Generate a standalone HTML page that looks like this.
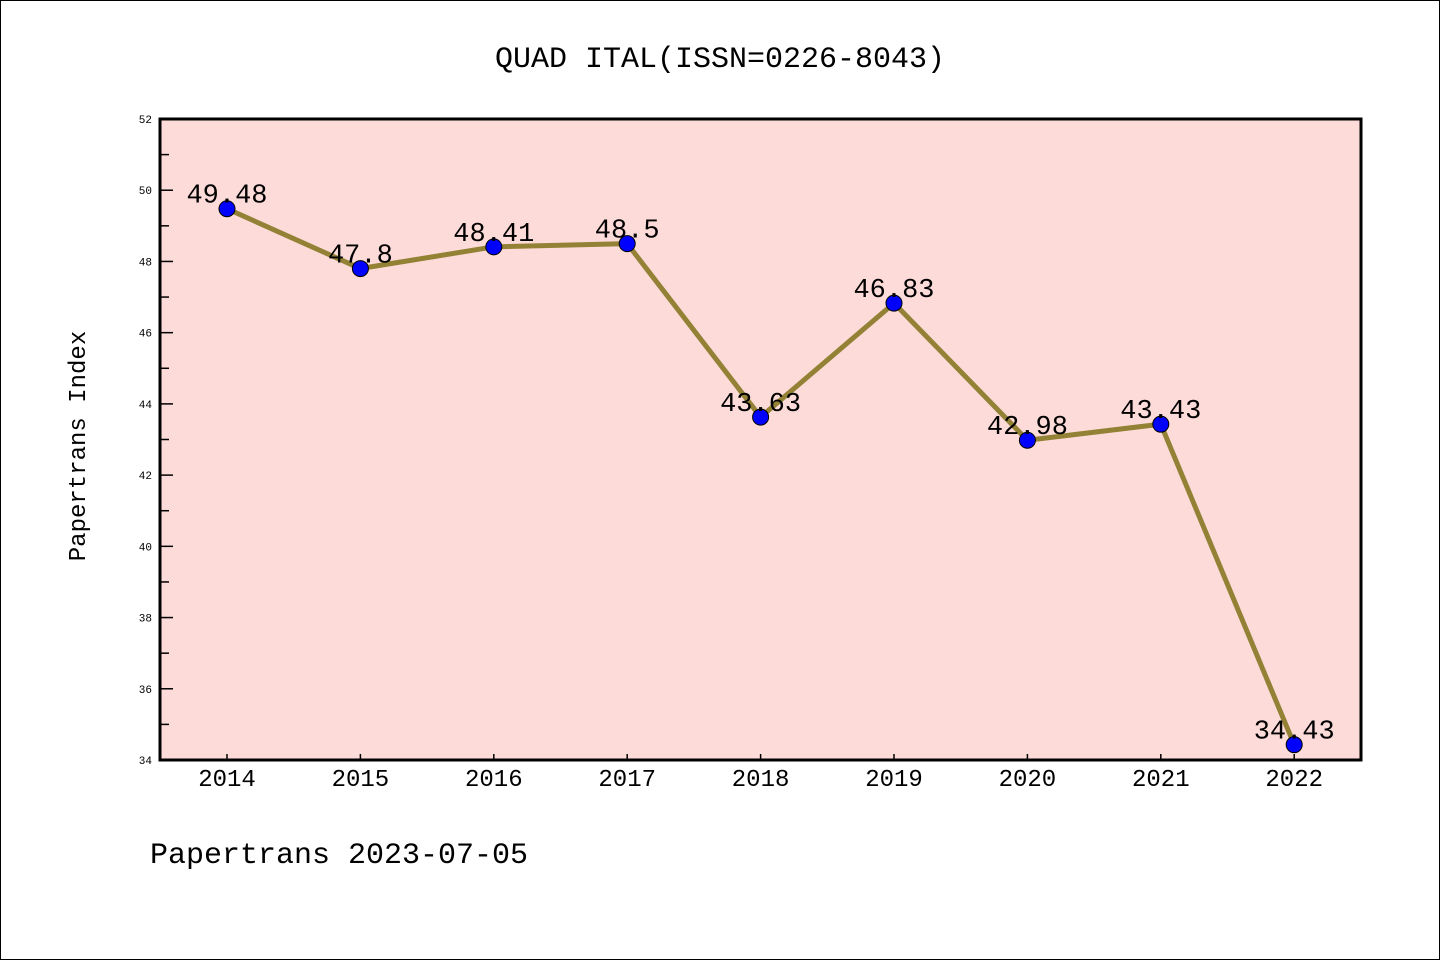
<!DOCTYPE html>
<html><head><meta charset="utf-8"><style>
html,body{margin:0;padding:0;background:#fff;}
svg{display:block;}
text{font-family:"Liberation Mono","WenQuanYi Zen Hei",monospace;}
</style></head><body>
<svg id="chart" width="1440" height="960" xmlns="http://www.w3.org/2000/svg">
<rect x="0.5" y="0.5" width="1439" height="959" fill="#fff" stroke="#000" stroke-width="1"/>
<text x="720" y="67" font-size="30" text-anchor="middle">QUAD ITAL(ISSN=0226-8043)</text>
<rect x="160" y="119" width="1201" height="641" fill="#fddbd8"/>
<g id="axes"></g>
<g id="series"></g>
<rect x="160" y="119" width="1201" height="641" fill="none" stroke="#000" stroke-width="3"/>
<text transform="translate(85,446) rotate(-90)" font-size="24" text-anchor="middle">Papertrans Index</text>
<text x="150" y="863" font-size="30">Papertrans 2023-07-05</text>
</svg>
<script>
const years = ["2014","2015","2016","2017","2018","2019","2020","2021","2022"];
const values = [49.48,47.8,48.41,48.5,43.63,46.83,42.98,43.43,34.43];
const labels = ["49.48","47.8","48.41","48.5","43.63","46.83","42.98","43.43","34.43"];
const yTicks = [34,36,38,40,42,44,46,48,50,52];
const NS="http://www.w3.org/2000/svg";
const yMin=34,yMax=52,plotTop=119,plotBot=760;
function ys(v){return plotBot-(v-yMin)/(yMax-yMin)*(plotBot-plotTop);}
function xs(i){return 227+i*133.4;}
function mk(tag,attrs,parent){const e=document.createElementNS(NS,tag);for(const k in attrs)e.setAttribute(k,attrs[k]);parent.appendChild(e);return e;}
const ax=document.getElementById('axes');
yTicks.forEach((t,i)=>{
  const l=mk('line',{x1:160,x2:173,y1:ys(t),y2:ys(t),stroke:'#000','stroke-width':1.5},ax);
  
  
  const tx=mk('text',{x:152,y:ys(t)+4,'font-size':11,'text-anchor':'end'},ax);
  tx.textContent=t;
  
  
  if(i<yTicks.length-1){
    const m=mk('line',{x1:160,x2:169,y1:ys(t+1),y2:ys(t+1),stroke:'#000','stroke-width':1.5},ax);
    
    
  }
});
years.forEach((y,i)=>{
  const l=mk('line',{x1:xs(i),x2:xs(i),y1:plotBot,y2:plotBot-6,stroke:'#000','stroke-width':1.5},ax);
  
  
  const tx=mk('text',{x:xs(i),y:plotBot+26,'font-size':24,'text-anchor':'middle'},ax);
  tx.textContent=y;
  
  
});
const sg=document.getElementById('series');
const pts=values.map((v,i)=>xs(i)+','+ys(v)).join(' ');
const pl=mk('polyline',{points:pts,fill:'none',stroke:'#938236','stroke-width':5,'stroke-linejoin':'round'},sg);


values.forEach((v,i)=>{
  const c=mk('circle',{cx:xs(i),cy:ys(v),r:8,fill:'#0000ff',stroke:'#000','stroke-width':1},sg);
  
  
});
values.forEach((v,i)=>{
  const t=mk('text',{x:xs(i),y:ys(v)-6,'font-size':27,'text-anchor':'middle'},sg);
  t.textContent=labels[i];
  
  
});
</script>
</body></html>
